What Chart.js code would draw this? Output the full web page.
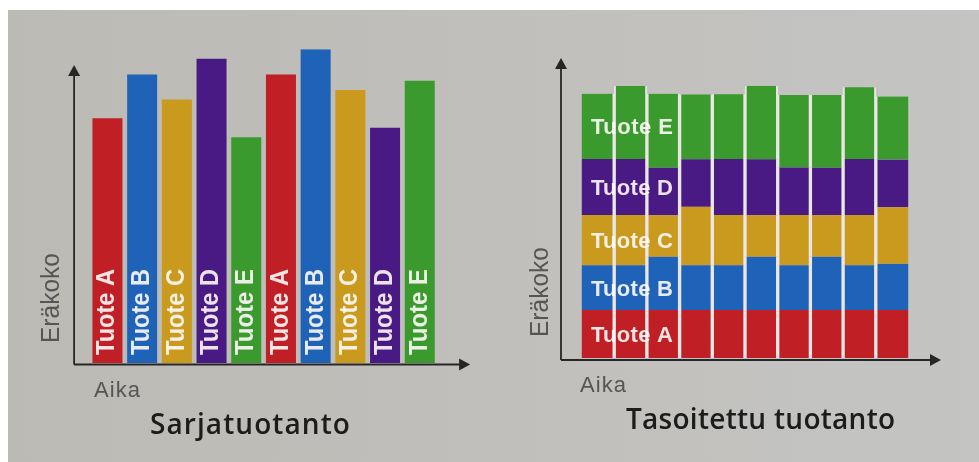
<!DOCTYPE html>
<html>
<head>
<meta charset="utf-8">
<script src="https://cdn.jsdelivr.net/npm/chart.js@4.4.1/dist/chart.umd.min.js"></script>
<style>
  html, body { margin: 0; padding: 0; width: 979px; height: 462px; overflow: hidden; background: #ffffff; }
  #sheet { position: absolute; left: 8px; top: 10px; width: 971px; height: 452px;
           background: linear-gradient(90deg, #bcbab5 0%, #c0bfbb 50%, #c4c4c3 100%); }
  .box { position: absolute; top: 0; height: 462px; }
  #boxBatch { left: 0; width: 490px; }
  #boxLevel { left: 490px; width: 489px; }
</style>
</head>
<body>
<div id="sheet"></div>
<div class="box" id="boxBatch"><canvas id="batch" width="490" height="462"></canvas></div>
<div class="box" id="boxLevel"><canvas id="level" width="489" height="462"></canvas></div>
<script>
// Products and their colours
const products = ['Tuote A', 'Tuote B', 'Tuote C', 'Tuote D', 'Tuote E'];
const productColors = ['#bf1f25', '#1f63b9', '#c99a1d', '#4a1a84', '#3b9a2d'];

// Sarjatuotanto: one large batch per product, run one after another
const batchSequence = ['Tuote A', 'Tuote B', 'Tuote C', 'Tuote D', 'Tuote E',
                       'Tuote A', 'Tuote B', 'Tuote C', 'Tuote D', 'Tuote E'];
const batchSizes = [78, 92, 84, 97, 72, 92, 100, 87, 75, 90];

// Tasoitettu tuotanto: every period makes a small amount of each product
const periods = ['1', '2', '3', '4', '5', '6', '7', '8', '9', '10'];
const levelA = [17.6, 17.6, 17.6, 17.6, 17.6, 17.6, 17.6, 17.6, 17.6, 17.6];
const levelB = [16.5, 16.5, 19.6, 16.5, 16.5, 19.6, 16.5, 19.6, 16.5, 17.0];
const levelC = [18.4, 18.4, 15.2, 21.4, 18.4, 15.2, 18.4, 15.2, 18.4, 20.8];
const levelD = [20.6, 20.6, 17.5, 17.5, 20.6, 20.6, 17.5, 17.5, 20.6, 17.5];
const levelE = [23.9, 26.9, 27.1, 23.8, 23.8, 27.0, 26.6, 26.7, 26.3, 23.1];

// Texts
const yTitle = 'Eräkoko';
const xTitle = 'Aika';
const batchTitle = 'Sarjatuotanto';
const levelTitle = 'Tasoitettu tuotanto';

const SANS = '"Liberation Sans", Arial, sans-serif';
const TITLE_FONT = '"Open Sans", "Liberation Sans", sans-serif';
const LABEL_COLOR = 'rgba(255, 250, 250, 0.9)';
const AXIS_TEXT = '#555555';

// Draw text from an anchor, squeezed or letter-spaced to a given length
function fitText(ctx, text, x, y, width, opts) {
  ctx.save();
  ctx.font = opts.font;
  ctx.fillStyle = opts.color;
  ctx.textBaseline = 'middle';
  ctx.textAlign = 'left';
  ctx.translate(x, y);
  if (opts.rotate) ctx.rotate(opts.rotate);
  const w0 = ctx.measureText(text).width;
  const start = opts.align === 'start' ? 0 : -width / 2;
  if (w0 > width) {
    const sx = width / w0;
    ctx.scale(sx, 1);
    ctx.fillText(text, start / sx, 0);
  } else {
    if (text.length > 1 && 'letterSpacing' in ctx) {
      ctx.letterSpacing = ((width - w0) / (text.length - 1)).toFixed(2) + 'px';
    }
    ctx.fillText(text, start, 0);
  }
  ctx.restore();
}

// Axis lines with arrow heads, placed relative to the chart area
function drawArrowAxes(ctx, ca, g) {
  const ox = ca.left + g.yAxisDx;
  const oy = ca.bottom + g.xAxisDy;
  const tipY = ca.top + g.yTipDy;
  const tipX = ca.right + g.xTipDx;
  ctx.save();
  ctx.strokeStyle = '#262626';
  ctx.fillStyle = '#262626';
  ctx.lineWidth = 1.8;
  ctx.beginPath();
  ctx.moveTo(ox, oy);
  ctx.lineTo(ox, tipY + 8);
  ctx.moveTo(ox, oy);
  ctx.lineTo(tipX - 8, oy);
  ctx.stroke();
  ctx.beginPath();
  ctx.moveTo(ox, tipY);
  ctx.lineTo(ox - 6, tipY + 11);
  ctx.lineTo(ox + 6, tipY + 11);
  ctx.closePath();
  ctx.fill();
  ctx.beginPath();
  ctx.moveTo(tipX, oy);
  ctx.lineTo(tipX - 11, oy - 6);
  ctx.lineTo(tipX - 11, oy + 6);
  ctx.closePath();
  ctx.fill();
  ctx.restore();
}

// Titles around the plot, placed relative to the chart area
function drawFrameTexts(ctx, ca, g, title) {
  fitText(ctx, yTitle, ca.left + g.yTitleDx, ca.bottom + g.yTitleDy, 90,
          { font: '25px ' + SANS, color: AXIS_TEXT, rotate: -Math.PI / 2 });
  fitText(ctx, xTitle, ca.left + g.xTitleDx, ca.bottom + g.xTitleDy, 46,
          { font: '22px ' + SANS, color: AXIS_TEXT, align: 'start' });
  fitText(ctx, title, (ca.left + ca.right) / 2 + g.titleDx, ca.bottom + g.titleDy, g.titleWidth,
          { font: '600 28px ' + TITLE_FONT, color: '#1c1c1c' });
}

const batchFrame = {
  id: 'batchFrame',
  afterDatasetsDraw(chart) {
    const { ctx, chartArea: ca } = chart;
    drawArrowAxes(ctx, ca, { yAxisDx: -16, xAxisDy: 1.5, yTipDy: 15.7, xTipDx: 33 });
    // product name inside each batch bar, reading upwards
    chart.getDatasetMeta(0).data.forEach((bar, i) => {
      fitText(ctx, batchSequence[i], bar.x, bar.base - 8, 86,
              { font: 'bold 25px ' + SANS, color: LABEL_COLOR, rotate: -Math.PI / 2, align: 'start' });
    });
    drawFrameTexts(ctx, ca, { yTitleDx: -38, yTitleDy: -65, xTitleDx: 4, xTitleDy: 27.5,
                              titleDx: -13.6, titleDy: 63, titleWidth: 200 }, batchTitle);
  }
};

const levelFrame = {
  id: 'levelFrame',
  afterDatasetsDraw(chart) {
    const { ctx, chartArea: ca } = chart;
    drawArrowAxes(ctx, ca, { yAxisDx: -20.5, xAxisDy: 2, yTipDy: -27.7, xTipDx: 32.5 });
    // product names across the first periods, centred on each layer
    chart.data.datasets.forEach((ds, i) => {
      const seg = chart.getDatasetMeta(i).data[0];
      fitText(ctx, ds.label, ca.left + 9.5, (seg.y + seg.base) / 2 + 2, 82,
              { font: 'bold 22px ' + SANS, color: LABEL_COLOR, align: 'start' });
    });
    drawFrameTexts(ctx, ca, { yTitleDx: -40.5, yTitleDy: -66, xTitleDx: -1.5, xTitleDy: 28,
                              titleDx: 15.5, titleDy: 63, titleWidth: 269 }, levelTitle);
  }
};

const hiddenScales = (stacked) => ({
  x: { display: false, stacked },
  y: { display: false, stacked, min: 0, max: 100 }
});

new Chart(document.getElementById('batch'), {
  type: 'bar',
  data: {
    labels: batchSequence,
    datasets: [{
      label: yTitle,
      data: batchSizes,
      backgroundColor: batchSequence.map(p => productColors[products.indexOf(p)]),
      borderWidth: 0,
      barPercentage: 0.865,
      categoryPercentage: 1
    }]
  },
  options: {
    responsive: false,
    animation: false,
    layout: { padding: { left: 90.1, right: 52.9, top: 49.3, bottom: 99 } },
    scales: hiddenScales(false),
    plugins: { legend: { display: false }, tooltip: { enabled: false } }
  },
  plugins: [batchFrame]
});

const levelSeries = [levelA, levelB, levelC, levelD, levelE];
const lastPeriod = periods.length - 1;

new Chart(document.getElementById('level'), {
  type: 'bar',
  data: {
    labels: periods,
    datasets: products.map((p, i) => ({
      label: p,
      data: levelSeries[i],
      backgroundColor: productColors[i],
      borderColor: '#ece7e6',
      borderWidth: (c) => ({
        left: c.dataIndex === 0 ? 0 : 2,
        right: c.dataIndex === lastPeriod ? 0 : 2,
        top: 0,
        bottom: 0
      }),
      barPercentage: 1,
      categoryPercentage: 1
    }))
  },
  options: {
    responsive: false,
    animation: false,
    layout: { padding: { left: 91.5, right: 70.5, top: 85.7, bottom: 104 } },
    scales: hiddenScales(true),
    plugins: { legend: { display: false }, tooltip: { enabled: false } }
  },
  plugins: [levelFrame]
});
</script>
</body>
</html>
